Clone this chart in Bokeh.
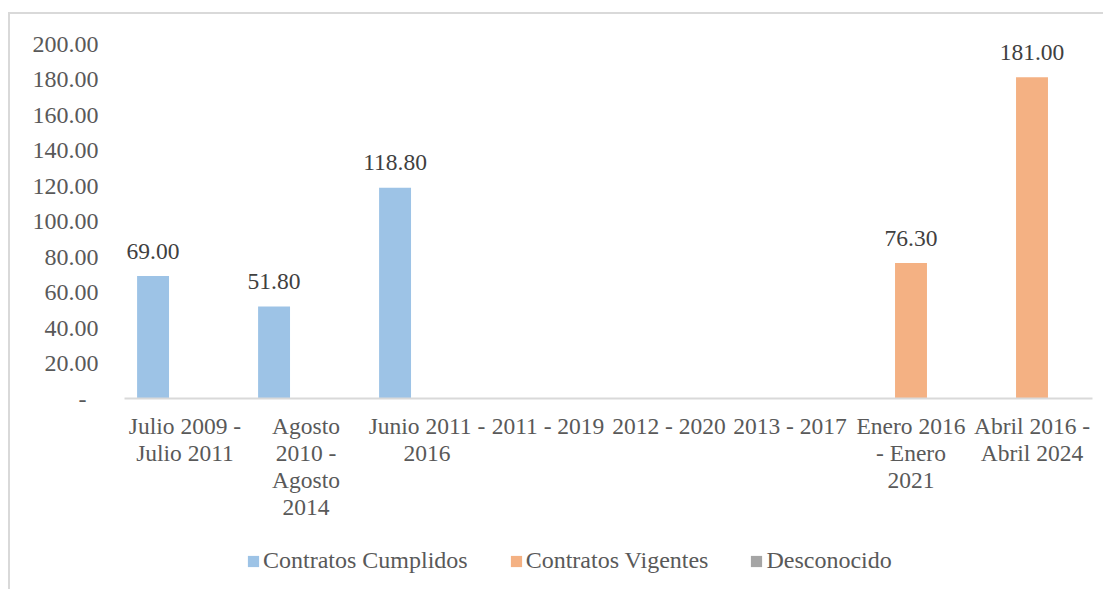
from bokeh.plotting import figure
from bokeh.models import (ColumnDataSource, Range1d, FixedTicker,
                          NumeralTickFormatter, Legend, LegendItem)
from bokeh.layouts import column
from bokeh.transform import dodge
from bokeh.core.properties import value
from bokeh.embed import file_html
from bokeh.resources import INLINE

categories = ["Julio 2009 - Julio 2011", "Agosto 2010 - Agosto 2014",
              "Junio 2011 - 2016", "2011 - 2019", "2012 - 2020", "2013 - 2017",
              "Enero 2016 - Enero 2021", "Abril 2016 - Abril 2024"]
# category labels wrapped as in the reference
wrapped_labels = ["Julio 2009 -\nJulio 2011", "Agosto\n2010 -\nAgosto\n2014",
                  "Junio 2011 -\n2016", "2011 - 2019", "2012 - 2020", "2013 - 2017",
                  "Enero 2016\n- Enero\n2021", "Abril 2016 -\nAbril 2024"]
cumplidos = [69.0, 51.8, 118.8, None, None, None, None, None]
vigentes = [None, None, None, None, None, None, 76.3, 181.0]
desconocido = [None, None, None, None, None, None, None, None]
series_names = ["Contratos Cumplidos", "Contratos Vigentes", "Desconocido"]
series_colors = ["#9DC3E6", "#F4B183", "#A5A5A5"]
y_ticks = [0, 20, 40, 60, 80, 100, 120, 140, 160, 180, 200]

FONT = value("Liberation Serif")
FS = "23.5px"
GREY_TXT = "#595959"
idx = list(range(len(categories)))

p = figure(x_range=Range1d(-0.5, len(categories) - 0.5),
           y_range=Range1d(0, 200), width=1095, height=530,
           output_backend="svg", toolbar_location=None,
           min_border_left=114, min_border_right=13, min_border_top=29,
           min_border_bottom=146)
p.styles = {"border-top": "2px solid #d9d9d9", "border-left": "2px solid #d9d9d9",
            "margin-top": "12px", "margin-left": "8px"}
p.outline_line_color = None
p.xgrid.grid_line_color = None
p.ygrid.grid_line_color = None
p.background_fill_color = "white"
p.border_fill_color = "white"


def nanify(vals):
    return [float('nan') if v is None else v for v in vals]


bw = 0.264
offsets = [-bw, 0.0, bw]
all_series = [cumplidos, vigentes, desconocido]
for name, vals, col, off in zip(series_names, all_series, series_colors, offsets):
    src = ColumnDataSource(dict(x=idx, val=nanify(vals)))
    p.vbar(x=dodge('x', off), top='val', width=bw, source=src,
           fill_color=col, line_color=None)
    lab_x = [i for i, v in zip(idx, vals) if v is not None]
    lab_vals = [v for v in vals if v is not None]
    if lab_x:
        lsrc = ColumnDataSource(dict(x=lab_x, val=lab_vals,
                                     txt=[f"{v:.2f}" for v in lab_vals]))
        p.text(x=dodge('x', off), y='val', text='txt', source=lsrc,
               text_align="center", text_baseline="alphabetic", y_offset=-25,
               text_font=FONT, text_font_size=FS, text_color="#404040")

# y axis
p.yaxis.ticker = FixedTicker(ticks=y_ticks)
p.yaxis.formatter = NumeralTickFormatter(format="0.00")
p.yaxis.major_label_overrides = {0: "-\u00a0\u00a0"}
p.yaxis.axis_line_color = None
p.yaxis.major_tick_line_color = None
p.yaxis.minor_tick_line_color = None
p.yaxis.major_tick_out = 0
p.yaxis.major_label_standoff = 26
p.yaxis.major_label_text_font = "Liberation Serif"
p.yaxis.major_label_text_font_size = "24px"
p.yaxis.major_label_text_color = GREY_TXT

# x axis
p.xaxis.ticker = FixedTicker(ticks=idx)
p.xaxis.major_label_overrides = dict(zip(idx, wrapped_labels))
p.xaxis.axis_line_color = "#d9d9d9"
p.xaxis.axis_line_width = 2
p.xaxis.major_tick_line_color = None
p.xaxis.minor_tick_line_color = None
p.xaxis.major_tick_out = 0
p.xaxis.major_label_standoff = 14
p.xaxis.major_label_orientation = "horizontal"
p.xaxis.major_label_text_font = "Liberation Serif"
p.xaxis.major_label_text_font_size = FS
p.xaxis.major_label_text_color = GREY_TXT
p.xaxis.major_label_text_line_height = 1.05

# legend strip below the chart (legend swatches only, no data drawn)
lg = figure(width=1095, height=47, output_backend="svg", toolbar_location=None,
            min_border=0, x_range=Range1d(0, 1), y_range=Range1d(0, 1),
            x_axis_location=None, y_axis_location=None)
lg.styles = {"border-left": "2px solid #d9d9d9", "margin-left": "8px"}
lg.grid.visible = False
lg.outline_line_color = None
items = []
for name, col in zip(series_names, series_colors):
    r = lg.vbar(x=[float('nan')], top=[float('nan')], width=0.1,
                fill_color=col, line_color=None)
    items.append(LegendItem(label=name, renderers=[r]))
legend = Legend(items=items, orientation="horizontal", location=(122, 15),
                glyph_width=14, glyph_height=14, label_standoff=3, spacing=41,
                padding=0, margin=0, border_line_color=None,
                background_fill_alpha=0, label_text_font="Liberation Serif",
                label_text_font_size="24px", label_text_color=GREY_TXT,
                label_height=14)
lg.add_layout(legend, "center")

layout = column(p, lg)
open("out.html", "w").write(file_html(layout, INLINE))
